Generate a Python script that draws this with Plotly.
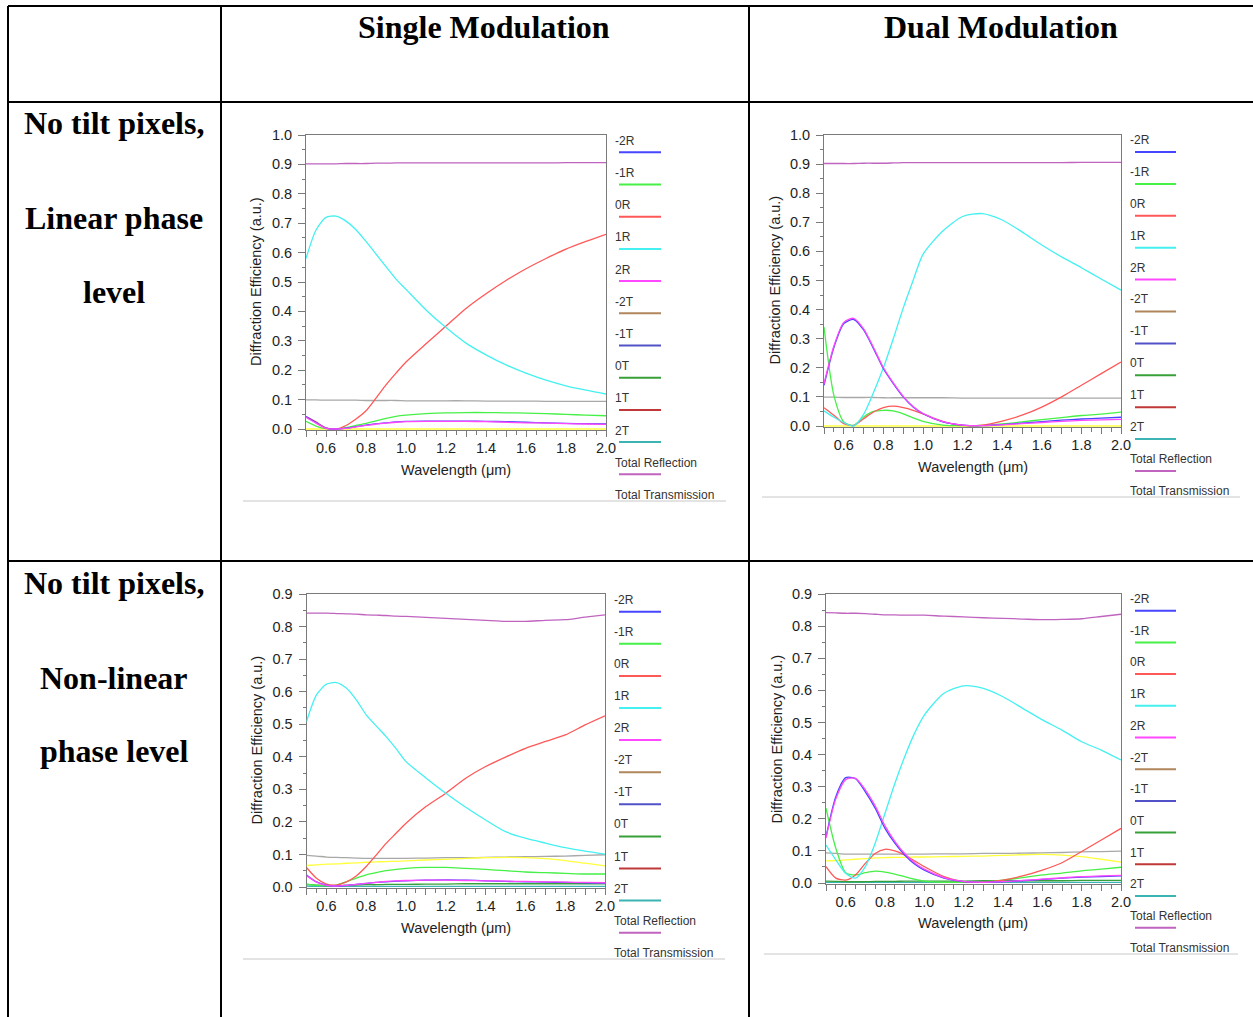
import plotly.graph_objects as go

# ---------------------------------------------------------------------------
# Data: diffraction efficiency vs. wavelength (um) for each grating design
# ---------------------------------------------------------------------------
wavelength = [0.5, 0.55, 0.6, 0.65, 0.7, 0.75, 0.8, 0.85, 0.9, 0.95, 1.0,
              1.1, 1.2, 1.3, 1.4, 1.5, 1.6, 1.7, 1.8, 1.9, 2.0]

legend_labels = ["-2R", "-1R", "0R", "1R", "2R", "-2T", "-1T", "0T", "1T", "2T",
                 "Total Reflection", "Total Transmission"]

col_headers = ["Single Modulation", "Dual Modulation"]
row_headers = [["No tilt pixels,", "Linear phase", "level"],
               ["No tilt pixels,", "Non-linear", "phase level"]]

# Linear phase level, single modulation
lin_single_m2R = [0.042, 0.022, 0.003, 0.0, 0.003, 0.008, 0.013, 0.018, 0.021, 0.024, 0.026,
                  0.027, 0.027, 0.027, 0.026, 0.025, 0.023, 0.021, 0.019, 0.018, 0.017]
lin_single_m1R = [0.026, 0.01, 0.001, 0.0, 0.005, 0.012, 0.019, 0.028, 0.036, 0.043, 0.047,
                  0.052, 0.055, 0.056, 0.056, 0.055, 0.054, 0.052, 0.05, 0.047, 0.045]
lin_single_0R = [0.042, 0.024, 0.004, 0.0, 0.012, 0.034, 0.062, 0.105, 0.15, 0.19, 0.228,
                 0.29, 0.35, 0.41, 0.46, 0.505, 0.545, 0.58, 0.612, 0.638, 0.662]
lin_single_1R = [0.58, 0.677, 0.72, 0.724, 0.707, 0.678, 0.638, 0.595, 0.552, 0.51, 0.475,
                 0.405, 0.345, 0.292, 0.252, 0.218, 0.19, 0.166, 0.147, 0.132, 0.119]
lin_single_2R = [0.04, 0.02, 0.002, 0.0, 0.002, 0.007, 0.012, 0.017, 0.02, 0.023, 0.025,
                 0.026, 0.026, 0.026, 0.025, 0.023, 0.021, 0.02, 0.018, 0.017, 0.016]
lin_single_totR = [0.902, 0.902, 0.902, 0.902, 0.903, 0.903, 0.903, 0.904, 0.904, 0.905, 0.905,
                   0.905, 0.905, 0.905, 0.905, 0.905, 0.905, 0.905, 0.906, 0.906, 0.906]
lin_single_totT = [0.099, 0.099, 0.098, 0.098, 0.098, 0.098, 0.097, 0.097, 0.097, 0.097, 0.096,
                   0.096, 0.096, 0.096, 0.095, 0.095, 0.095, 0.094, 0.094, 0.094, 0.094]
lin_single_aux = [0.0] * 21

# Linear phase level, dual modulation
lin_dual_m2R = [0.14, 0.27, 0.352, 0.366, 0.33, 0.266, 0.197, 0.146, 0.1, 0.065, 0.042,
                0.014, 0.003, 0.001, 0.005, 0.01, 0.015, 0.02, 0.024, 0.027, 0.03]
lin_dual_m1R = [0.34, 0.105, 0.014, 0.002, 0.031, 0.05, 0.054, 0.052, 0.042, 0.028, 0.016,
                0.003, 0.001, 0.002, 0.007, 0.014, 0.022, 0.029, 0.036, 0.041, 0.048]
lin_dual_0R = [0.063, 0.037, 0.008, 0.002, 0.025, 0.048, 0.063, 0.068, 0.063, 0.054, 0.042,
               0.016, 0.002, 0.003, 0.017, 0.037, 0.065, 0.1, 0.14, 0.18, 0.22]
lin_dual_1R = [0.052, 0.03, 0.012, 0.0, 0.04, 0.115, 0.2, 0.3, 0.405, 0.5, 0.59,
               0.67, 0.72, 0.73, 0.708, 0.667, 0.622, 0.581, 0.544, 0.505, 0.467]
lin_dual_2R = [0.145, 0.275, 0.356, 0.37, 0.334, 0.27, 0.2, 0.148, 0.102, 0.067, 0.043,
               0.015, 0.003, 0.001, 0.004, 0.008, 0.012, 0.016, 0.019, 0.021, 0.023]
lin_dual_totR = [0.902, 0.902, 0.902, 0.902, 0.903, 0.903, 0.903, 0.904, 0.905, 0.905, 0.905,
                 0.905, 0.905, 0.905, 0.905, 0.905, 0.905, 0.905, 0.906, 0.906, 0.906]
lin_dual_totT = [0.099, 0.099, 0.098, 0.098, 0.098, 0.098, 0.097, 0.097, 0.097, 0.097, 0.097,
                 0.097, 0.096, 0.096, 0.096, 0.096, 0.096, 0.096, 0.096, 0.096, 0.096]
lin_dual_aux = [0.0] * 21

# Non-linear phase level, single modulation
nl_single_m2R = [0.037, 0.016, 0.006, 0.003, 0.005, 0.008, 0.011, 0.014, 0.016, 0.018, 0.019,
                 0.021, 0.022, 0.021, 0.019, 0.017, 0.016, 0.015, 0.014, 0.013, 0.012]
nl_single_m1R = [0.009, 0.005, 0.004, 0.006, 0.016, 0.027, 0.037, 0.044, 0.05, 0.054, 0.057,
                 0.06, 0.06, 0.057, 0.054, 0.05, 0.046, 0.044, 0.042, 0.04, 0.04]
nl_single_0R = [0.06, 0.027, 0.009, 0.006, 0.016, 0.034, 0.063, 0.098, 0.134, 0.165, 0.196,
                0.247, 0.288, 0.334, 0.37, 0.399, 0.426, 0.447, 0.467, 0.498, 0.526]
nl_single_1R = [0.508, 0.59, 0.623, 0.628, 0.611, 0.575, 0.529, 0.495, 0.462, 0.425, 0.385,
                0.335, 0.288, 0.245, 0.206, 0.17, 0.15, 0.135, 0.121, 0.11, 0.101]
nl_single_2R = [0.035, 0.015, 0.005, 0.003, 0.005, 0.008, 0.011, 0.014, 0.017, 0.019, 0.02,
                0.021, 0.021, 0.02, 0.019, 0.018, 0.017, 0.016, 0.015, 0.014, 0.013]
nl_single_0T = [0.008, 0.006, 0.004, 0.004, 0.005, 0.006, 0.007, 0.007, 0.008, 0.008, 0.008,
                0.009, 0.009, 0.01, 0.01, 0.01, 0.01, 0.01, 0.01, 0.01, 0.01]
nl_single_2T = [0.003, 0.002, 0.002, 0.002, 0.002, 0.002, 0.002, 0.002, 0.002, 0.002, 0.002,
                0.002, 0.002, 0.002, 0.002, 0.002, 0.002, 0.002, 0.002, 0.002, 0.002]
nl_single_totR = [0.841, 0.841, 0.841, 0.84, 0.839, 0.838, 0.836, 0.835, 0.834, 0.832, 0.831,
                  0.828, 0.825, 0.822, 0.819, 0.816, 0.816, 0.819, 0.821, 0.829, 0.836]
nl_single_totT = [0.097, 0.095, 0.092, 0.091, 0.09, 0.089, 0.088, 0.088, 0.088, 0.088, 0.088,
                  0.089, 0.09, 0.09, 0.091, 0.092, 0.093, 0.094, 0.095, 0.097, 0.099]
nl_single_aux = [0.066, 0.068, 0.07, 0.071, 0.073, 0.074, 0.076, 0.077, 0.078, 0.079, 0.08,
                 0.083, 0.085, 0.088, 0.09, 0.091, 0.09, 0.087, 0.081, 0.073, 0.065]

# Non-linear phase level, dual modulation
nl_dual_m2R = [0.144, 0.269, 0.328, 0.325, 0.284, 0.233, 0.17, 0.124, 0.087, 0.059, 0.04,
               0.015, 0.004, 0.002, 0.004, 0.007, 0.011, 0.015, 0.018, 0.02, 0.022]
nl_dual_m1R = [0.233, 0.108, 0.032, 0.025, 0.032, 0.037, 0.034, 0.028, 0.02, 0.012, 0.006,
               0.002, 0.002, 0.004, 0.009, 0.017, 0.025, 0.031, 0.038, 0.043, 0.049]
nl_dual_0R = [0.051, 0.015, 0.009, 0.025, 0.061, 0.092, 0.105, 0.1, 0.087, 0.069, 0.051,
              0.02, 0.004, 0.003, 0.009, 0.022, 0.04, 0.063, 0.098, 0.134, 0.17]
nl_dual_1R = [0.118, 0.072, 0.03, 0.015, 0.051, 0.124, 0.217, 0.31, 0.393, 0.466, 0.523,
              0.591, 0.614, 0.606, 0.58, 0.544, 0.508, 0.476, 0.44, 0.414, 0.383]
nl_dual_2R = [0.14, 0.262, 0.322, 0.326, 0.29, 0.24, 0.178, 0.13, 0.092, 0.063, 0.043,
              0.017, 0.005, 0.002, 0.004, 0.008, 0.012, 0.016, 0.02, 0.022, 0.024]
nl_dual_0T = [0.006, 0.005, 0.004, 0.004, 0.004, 0.005, 0.005, 0.005, 0.006, 0.006, 0.006,
              0.006, 0.006, 0.007, 0.007, 0.007, 0.007, 0.007, 0.008, 0.008, 0.008]
nl_dual_2T = [0.002, 0.002, 0.002, 0.002, 0.002, 0.002, 0.002, 0.002, 0.002, 0.002, 0.002,
              0.002, 0.002, 0.002, 0.002, 0.002, 0.002, 0.002, 0.002, 0.002, 0.002]
nl_dual_totR = [0.842, 0.841, 0.84, 0.84, 0.839, 0.837, 0.835, 0.835, 0.834, 0.834, 0.834,
                0.831, 0.829, 0.826, 0.824, 0.822, 0.82, 0.821, 0.823, 0.83, 0.837]
nl_dual_totT = [0.094, 0.092, 0.09, 0.09, 0.09, 0.09, 0.09, 0.09, 0.09, 0.09, 0.09,
                0.091, 0.091, 0.092, 0.092, 0.093, 0.094, 0.095, 0.097, 0.098, 0.099]
nl_dual_aux = [0.069, 0.07, 0.072, 0.074, 0.076, 0.078, 0.079, 0.08, 0.08, 0.081, 0.081,
               0.082, 0.083, 0.084, 0.086, 0.088, 0.089, 0.087, 0.082, 0.074, 0.065]

# ---------------------------------------------------------------------------
# Styling
# ---------------------------------------------------------------------------
W, H = 1253, 1017
SANS = "Liberation Sans, Arial, sans-serif"
SERIF = "Liberation Serif, Times New Roman, serif"
AXIS_GREY = "#7a7a7a"

order_colors = {
    "-2R": "#4646ff", "-1R": "#46f046", "0R": "#ff5858", "1R": "#44f0f0",
    "2R": "#ff48ff", "-2T": "#b0865c", "-1T": "#5252c8", "0T": "#38a038",
    "1T": "#c03838", "2T": "#3cb4b4", "Total Reflection": "#c064c0",
    "Total Transmission": "#a8a8a8",
}
aux_color = "#ffff3c"


def fx(p):
    return p / W


def fy(p):
    return 1 - p / H


# panel geometry in pixels: plot left/right, y of top tick, y of zero, top value
panels = [
    dict(n=1, l=306, r=606, top=135, zero=429, ymax=1.0,
         series=[("Total Reflection", lin_single_totR), ("Total Transmission", lin_single_totT),
                 (None, lin_single_aux), ("-1R", lin_single_m1R), ("0R", lin_single_0R),
                 ("1R", lin_single_1R), ("-2R", lin_single_m2R), ("2R", lin_single_2R)],
         leg=dict(tx=613, ty=140.7, ly=152.3, lx0=619, lx1=661, step=32.2),
         ytitle=(256, 282), xtitle=(456, 470), frame=(243, 726, 501)),
    dict(n=2, l=824, r=1121, top=135, zero=426, ymax=1.0,
         series=[("Total Reflection", lin_dual_totR), ("Total Transmission", lin_dual_totT),
                 (None, lin_dual_aux), ("-1R", lin_dual_m1R), ("0R", lin_dual_0R),
                 ("1R", lin_dual_1R), ("-2R", lin_dual_m2R), ("2R", lin_dual_2R)],
         leg=dict(tx=1128, ty=140, ly=152, lx0=1135, lx1=1176, step=31.9),
         ytitle=(775, 280.5), xtitle=(972.5, 466.7), frame=(762, 1240, 497)),
    dict(n=3, l=306.5, r=605, top=594, zero=887, ymax=0.9,
         series=[("Total Reflection", nl_single_totR), ("Total Transmission", nl_single_totT),
                 ("2T", nl_single_2T), ("0T", nl_single_0T), (None, nl_single_aux),
                 ("-1R", nl_single_m1R), ("0R", nl_single_0R), ("1R", nl_single_1R),
                 ("-2R", nl_single_m2R), ("2R", nl_single_2R)],
         leg=dict(tx=612, ty=599.7, ly=611.7, lx0=619, lx1=661, step=32.1),
         ytitle=(256, 740.5), xtitle=(456, 927.7), frame=(243, 725, 959)),
    dict(n=4, l=826, r=1121, top=594, zero=883, ymax=0.9,
         series=[("Total Reflection", nl_dual_totR), ("Total Transmission", nl_dual_totT),
                 ("2T", nl_dual_2T), ("0T", nl_dual_0T), (None, nl_dual_aux),
                 ("-1R", nl_dual_m1R), ("0R", nl_dual_0R), ("1R", nl_dual_1R),
                 ("-2R", nl_dual_m2R), ("2R", nl_dual_2R)],
         leg=dict(tx=1128, ty=599, ly=610.7, lx0=1135, lx1=1176, step=31.7),
         ytitle=(776, 738.5), xtitle=(973, 923.3), frame=(764, 1238, 954)),
]

fig = go.Figure()
shapes = []
annotations = []

x_major = [round(0.5 + 0.1 * i, 2) for i in range(16)]
x_text = ["%.1f" % v if round(v * 10) % 2 == 0 else "" for v in x_major]
x_minor = [round(0.55 + 0.1 * i, 2) for i in range(15)]
YPAD = 0.004  # small margin below zero so lines at 0 stay fully visible

for p in panels:
    n = p["n"]
    sfx = "" if n == 1 else str(n)
    ppu = (p["zero"] - p["top"]) / p["ymax"]
    bottom_px = p["zero"] + YPAD * ppu

    for name, vals in p["series"]:
        color = order_colors[name] if name else aux_color
        fig.add_trace(go.Scatter(
            x=wavelength, y=vals, mode="lines", name=name or "aux",
            line=dict(color=color, width=1.3, shape="spline", smoothing=0.7),
            showlegend=False, xaxis="x" + sfx, yaxis="y" + sfx, hoverinfo="skip"))

    common = dict(showline=True, mirror=True, linecolor=AXIS_GREY, linewidth=1,
                  showgrid=False, zeroline=False, ticks="outside", tickcolor=AXIS_GREY,
                  tickwidth=1, layer="below traces", automargin=False,
                  tickfont=dict(family=SANS, size=14.5, color="#1e1e1e"))
    fig.update_layout(**{
        "xaxis" + sfx: dict(common, domain=[fx(p["l"]), fx(p["r"])], range=[0.5, 2.0],
                            anchor="y" + sfx, tickmode="array", tickvals=x_major,
                            ticktext=x_text, ticklen=6, ticklabelstandoff=-2,
                            minor=dict(tickmode="array", tickvals=x_minor, ticklen=4,
                                       ticks="outside", tickcolor=AXIS_GREY, showgrid=False)),
        "yaxis" + sfx: dict(common, domain=[fy(bottom_px), fy(p["top"])],
                            range=[-YPAD, p["ymax"]], anchor="x" + sfx,
                            tickmode="linear", tick0=0, dtick=0.1, tickformat=".1f",
                            ticklen=7, ticklabelstandoff=3,
                            minor=dict(tick0=0, dtick=0.05, ticklen=3, ticks="outside",
                                       tickcolor=AXIS_GREY, showgrid=False)),
    })

    # axis titles
    annotations.append(dict(x=fx(p["ytitle"][0]), y=fy(p["ytitle"][1]), xref="paper",
                            yref="paper", text="Diffraction Efficiency (a.u.)",
                            textangle=-90, showarrow=False, xanchor="center",
                            yanchor="middle",
                            font=dict(family=SANS, size=14.5, color="#1e1e1e")))
    annotations.append(dict(x=fx(p["xtitle"][0]), y=fy(p["xtitle"][1]), xref="paper",
                            yref="paper", text="Wavelength (\u03bcm)", showarrow=False,
                            xanchor="center", yanchor="middle",
                            font=dict(family=SANS, size=14.5, color="#1e1e1e")))

    # order legend: label above a short colour sample
    lg = p["leg"]
    for i, lab in enumerate(legend_labels):
        annotations.append(dict(x=fx(lg["tx"]), y=fy(lg["ty"] + i * lg["step"]),
                                xref="paper", yref="paper", text=lab, showarrow=False,
                                xanchor="left", yanchor="middle",
                                font=dict(family=SANS, size=12, color="#333333")))
        ly = lg["ly"] + i * lg["step"]
        if ly < p["frame"][2]:
            shapes.append(dict(type="line", xref="paper", yref="paper",
                               x0=fx(lg["lx0"]), x1=fx(lg["lx1"]), y0=fy(ly), y1=fy(ly),
                               line=dict(color=order_colors[lab], width=2)))

    # light rule under each chart block
    fl, fr, fb = p["frame"]
    shapes.append(dict(type="line", xref="paper", yref="paper", x0=fx(fl), x1=fx(fr),
                       y0=fy(fb), y1=fy(fb), line=dict(color="#c8c8c8", width=1)))

# table grid
for (x0, y0, x1, y1) in [(8, 6, 1253, 6), (8, 102, 1253, 102), (8, 561, 1253, 561),
                         (8, 6, 8, 1017), (221, 6, 221, 1017), (749, 6, 749, 1017)]:
    shapes.append(dict(type="line", xref="paper", yref="paper", x0=fx(x0), x1=fx(x1),
                       y0=fy(y0), y1=fy(y1), line=dict(color="black", width=2),
                       layer="above"))

# column headers
for text, cx in zip(col_headers, [484, 1001]):
    annotations.append(dict(x=fx(cx), y=fy(27), xref="paper", yref="paper", text="<b>%s</b>" % text,
                            showarrow=False, xanchor="center", yanchor="middle",
                            font=dict(family=SERIF, size=32, color="black")))

# row headers
for lines, ys in zip(row_headers, [[123, 218, 292], [583, 678, 751]]):
    for text, yy in zip(lines, ys):
        annotations.append(dict(x=fx(114), y=fy(yy), xref="paper", yref="paper",
                                text="<b>%s</b>" % text, showarrow=False,
                                xanchor="center", yanchor="middle",
                                font=dict(family=SERIF, size=32, color="black")))

fig.update_layout(width=W, height=H,
                  margin=dict(l=0, r=0, t=0, b=0, pad=0, autoexpand=False),
                  paper_bgcolor="white", plot_bgcolor="white", showlegend=False,
                  shapes=shapes, annotations=annotations)

fig.write_html("out.html")
